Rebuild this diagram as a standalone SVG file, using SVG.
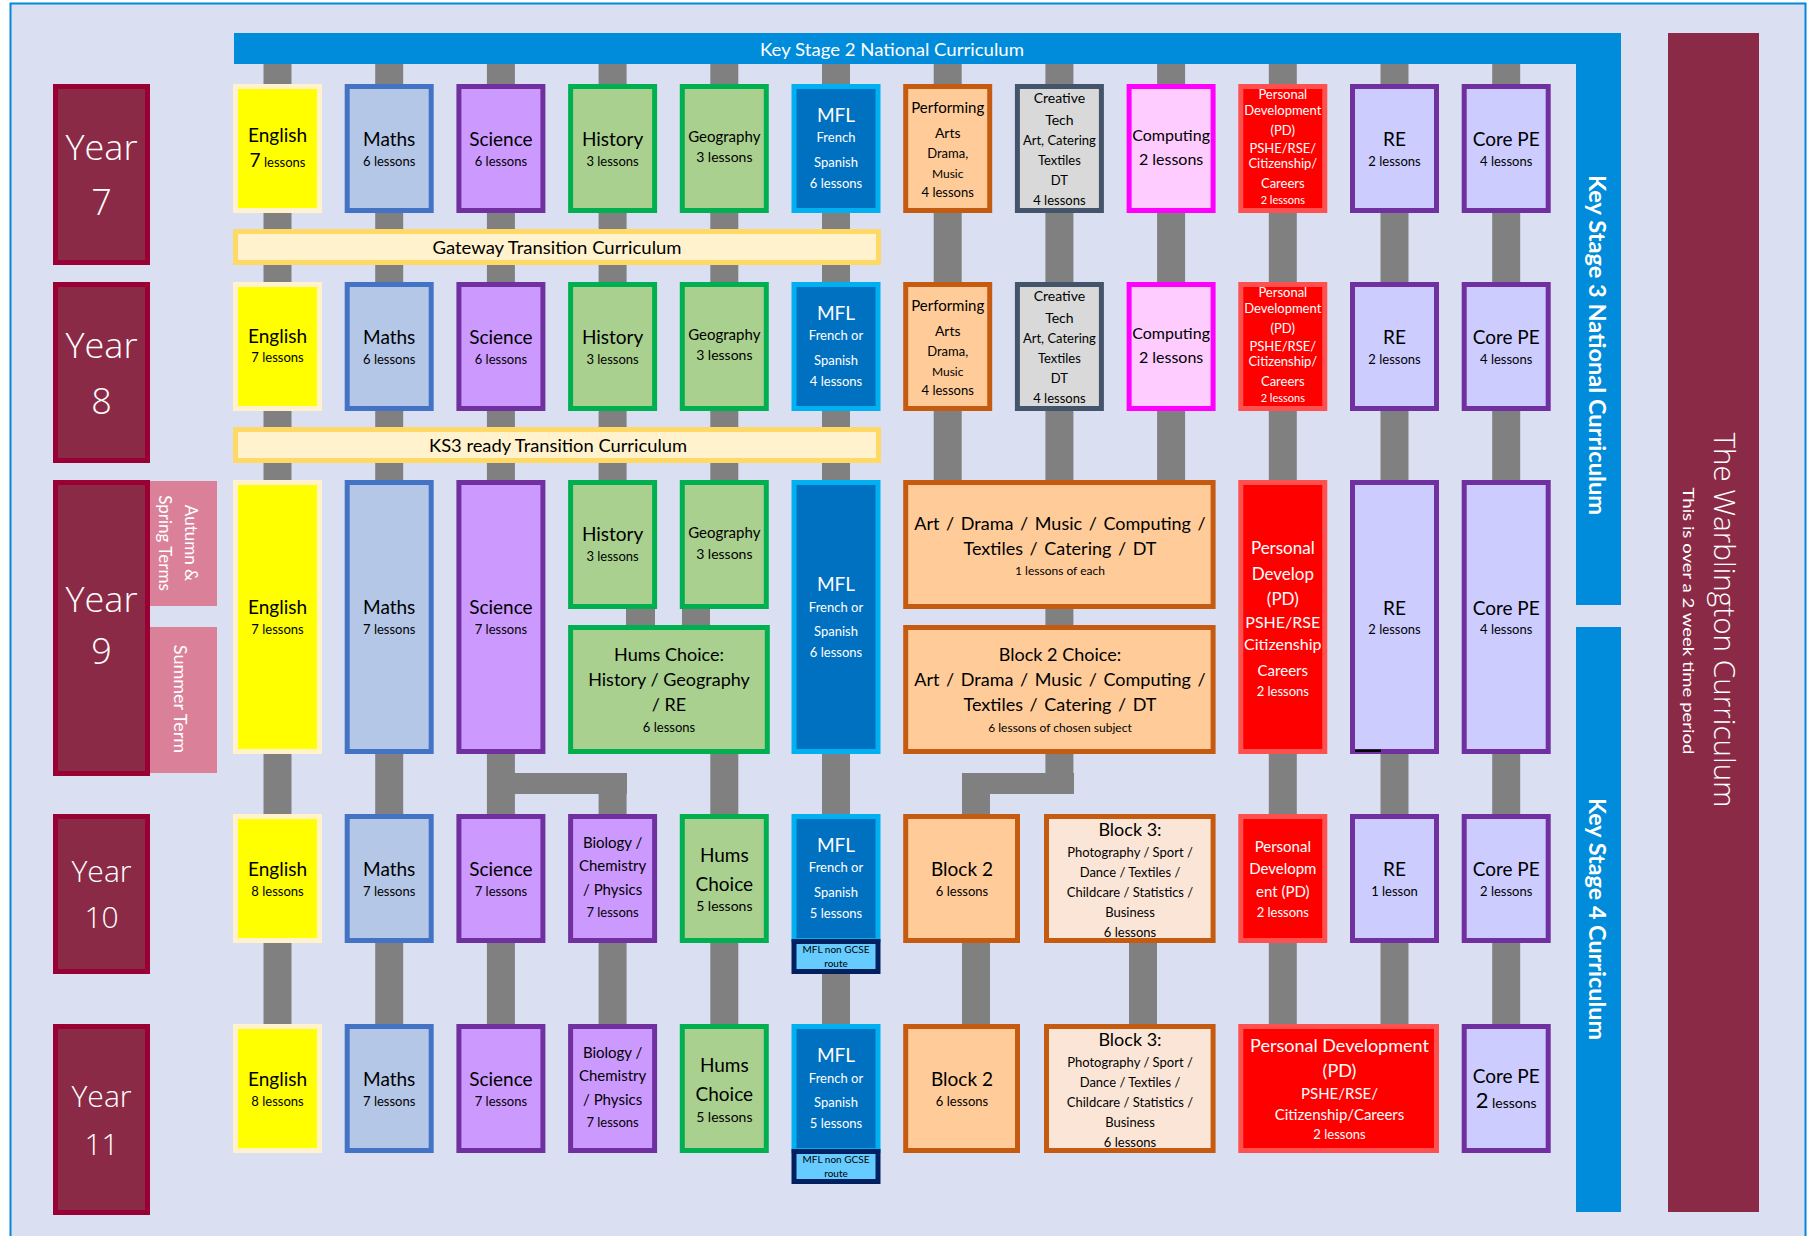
<svg xmlns="http://www.w3.org/2000/svg" width="1813" height="1236" viewBox="0 0 1813 1236">
<style>
.t{font-family:Lato,"Noto Sans","Liberation Sans",sans-serif;text-anchor:middle;fill:#000}
.w{fill:#fff}
.hw{font-family:"Open Sans","DejaVu Sans","Liberation Sans",sans-serif;font-weight:300;fill:#fff;text-anchor:middle}
.c{fill:#808080}
.b{stroke-width:5}
.eng{fill:#FFFF00;stroke:#FFF2CC}
.mat{fill:#B4C7E7;stroke:#4472C4}
.sci{fill:#CC99FF;stroke:#7030A0}
.hum{fill:#A9D08E;stroke:#00B050}
.mfl{fill:#0070C0;stroke:#00B0F0}
.ngc{fill:#66CCFF;stroke:#002060}
.prf{fill:#FFCC99;stroke:#C55A11}
.b3{fill:#FBE5D6;stroke:#C55A11}
.ct{fill:#D9D9D9;stroke:#44546A}
.cmp{fill:#FFCCFF;stroke:#FF00FF}
.pd{fill:#FF0000;stroke:#FF5050}
.re{fill:#CCCCFF;stroke:#7030A0}
.tr{fill:#FFF2CC;stroke:#FFD966}
.yr{fill:#8B2A46;stroke:#990033}
.term{fill:#DA8199}
.s10{font-size:10px}.s11{font-size:11px}.s12{font-size:12px}.s13{font-size:13px}.s14{font-size:14px}.s15{font-size:15px}.s16{font-size:16px}.s17{font-size:17px}.s18{font-size:18px}.s19{font-size:19px}
</style>
<rect x="0" y="0" width="1813" height="1236" fill="#ffffff"/>
<rect x="10.5" y="3.5" width="1795" height="1250" fill="#DAE0F2" stroke="#0288D8" stroke-width="2"/>

<g id="ks-bars">
<path d="M234 33H1621V605H1576V64H234Z" fill="#008CDB"/>
<rect x="1576" y="627" width="45" height="585" fill="#008CDB"/>
<text class="t w" x="892" y="56" font-size="18" textLength="264" lengthAdjust="spacingAndGlyphs">Key Stage 2 National Curriculum</text>
<text class="t w" transform="translate(1589,345) rotate(90)" font-size="22" font-weight="bold" textLength="340" lengthAdjust="spacingAndGlyphs">Key Stage 3 National Curriculum</text>
<text class="t w" transform="translate(1589,919) rotate(90)" font-size="22" font-weight="bold" textLength="242" lengthAdjust="spacingAndGlyphs">Key Stage 4 Curriculum</text>
</g>

<g id="title">
<rect x="1668" y="33" width="91" height="1179" fill="#8B2A46"/>
<text class="hw" transform="translate(1714,620) rotate(90)" font-size="30" textLength="375" lengthAdjust="spacingAndGlyphs">The Warblington Curriculum</text>
<text class="t w" transform="translate(1683,621) rotate(90)" font-size="16" textLength="267" lengthAdjust="spacingAndGlyphs">This is over a 2 week time period</text>
</g>

<g id="connectors">
<rect class="c" x="263.5" y="64" width="28" height="960"/>
<rect class="c" x="375.2" y="64" width="28" height="960"/>
<rect class="c" x="486.9" y="64" width="28" height="960"/>
<rect class="c" x="598.6" y="64" width="28" height="416"/>
<rect class="c" x="598.6" y="773" width="28" height="251"/>
<rect class="c" x="500" y="773" width="127" height="21"/>
<rect class="c" x="626" y="605" width="29" height="22"/>
<rect class="c" x="682" y="605" width="28" height="22"/>
<rect class="c" x="710.3" y="64" width="28" height="416"/>
<rect class="c" x="710.3" y="754" width="28" height="270"/>
<rect class="c" x="822" y="64" width="28" height="960"/>
<rect class="c" x="933.7" y="64" width="28" height="416"/>
<rect class="c" x="1045.4" y="64" width="28" height="730"/>
<rect class="c" x="962" y="773" width="112" height="21"/>
<rect class="c" x="962" y="773" width="28" height="251"/>
<rect class="c" x="1157.1" y="64" width="28" height="416"/>
<rect class="c" x="1129" y="943" width="28" height="81"/>
<rect class="c" x="1268.8" y="64" width="28" height="960"/>
<rect class="c" x="1380.5" y="64" width="28" height="960"/>
<rect class="c" x="1492.2" y="64" width="28" height="960"/>
</g>

<g id="year7">
<rect class="yr b" x="55.5" y="86.5" width="92" height="176"/>
<text class="hw" x="101.5" y="160" font-size="34" textLength="72" lengthAdjust="spacingAndGlyphs">Year</text>
<text class="hw" x="101.5" y="215" font-size="36">7</text>
</g>
<g id="year8">
<rect class="yr b" x="55.5" y="284.5" width="92" height="176"/>
<text class="hw" x="101.5" y="358" font-size="34" textLength="72" lengthAdjust="spacingAndGlyphs">Year</text>
<text class="hw" x="101.5" y="414" font-size="36">8</text>
</g>
<g id="year9">
<rect class="yr b" x="55.5" y="482.5" width="92" height="291"/>
<text class="hw" x="101.5" y="612" font-size="34" textLength="72" lengthAdjust="spacingAndGlyphs">Year</text>
<text class="hw" x="101.5" y="664" font-size="36">9</text>
</g>
<g id="year10">
<rect class="yr b" x="55.5" y="816.5" width="92" height="155"/>
<text class="hw" x="101.5" y="882" font-size="29" textLength="60" lengthAdjust="spacingAndGlyphs">Year</text>
<text class="hw" x="101.5" y="928" font-size="30">10</text>
</g>
<g id="year11">
<rect class="yr b" x="55.5" y="1026.5" width="92" height="186"/>
<text class="hw" x="101.5" y="1107" font-size="29" textLength="60" lengthAdjust="spacingAndGlyphs">Year</text>
<text class="hw" x="101.5" y="1155" font-size="30">11</text>
</g>
<g id="term-autumn">
<rect class="term" x="150" y="481" width="67" height="125"/>
<text class="t w s17" transform="translate(185,543) rotate(90)">Autumn &amp;</text>
<text class="t w s17" transform="translate(159,543) rotate(90)">Spring Terms</text>
</g>
<g id="term-summer">
<rect class="term" x="150" y="627" width="67" height="146"/>
<text class="t w s18" transform="translate(174,699) rotate(90)">Summer Term</text>
</g>

<g id="gateway">
<rect class="tr b" x="235.5" y="231.5" width="643" height="31"/>
<text class="t s17" x="557" y="254" textLength="249" lengthAdjust="spacingAndGlyphs">Gateway Transition Curriculum</text>
</g>
<g id="ks3ready">
<rect class="tr b" x="235.5" y="429.5" width="643" height="31"/>
<text class="t s17" x="558" y="452" textLength="258" lengthAdjust="spacingAndGlyphs">KS3 ready Transition Curriculum</text>
</g>

<!-- Year 7 -->
<g id="y7-english"><rect class="eng b" x="235.5" y="86.5" width="84" height="124"/>
<text class="t s19" x="277.5" y="142">English</text><text class="t s13" x="277.5" y="167"><tspan class="s19">7</tspan> lessons</text></g>
<g id="y7-maths"><rect class="mat b" x="347.2" y="86.5" width="84" height="124"/>
<text class="t s19" x="389.2" y="146">Maths</text><text class="t s13" x="389.2" y="166">6 lessons</text></g>
<g id="y7-science"><rect class="sci b" x="458.9" y="86.5" width="84" height="124"/>
<text class="t s19" x="500.9" y="146">Science</text><text class="t s13" x="500.9" y="166">6 lessons</text></g>
<g id="y7-history"><rect class="hum b" x="570.6" y="86.5" width="84" height="124"/>
<text class="t s19" x="612.6" y="146">History</text><text class="t s13" x="612.6" y="166">3 lessons</text></g>
<g id="y7-geography"><rect class="hum b" x="682.3" y="86.5" width="84" height="124"/>
<text class="t s15" x="724.3" y="142">Geography</text><text class="t s14" x="724.3" y="162">3 lessons</text></g>
<g id="y7-mfl"><rect class="mfl b" x="794" y="86.5" width="84" height="124"/>
<text class="t w s19" x="836" y="122">MFL</text><text class="t w s13" x="836" y="142">French</text><text class="t w s13" x="836" y="167">Spanish</text><text class="t w s13" x="836" y="188">6 lessons</text></g>
<g id="y7-perf"><rect class="prf b" x="905.7" y="86.5" width="84" height="124"/>
<text class="t s15" x="947.7" y="113">Performing</text><text class="t s14" x="947.7" y="138">Arts</text><text class="t s13" x="947.7" y="158">Drama,</text><text class="t s12" x="947.7" y="178">Music</text><text class="t s13" x="947.7" y="197">4 lessons</text></g>
<g id="y7-creative"><rect class="ct b" x="1017.4" y="86.5" width="84" height="124"/>
<text class="t s14" x="1059.4" y="103">Creative</text><text class="t s14" x="1059.4" y="125">Tech</text><text class="t s13" x="1059.4" y="145">Art, Catering</text><text class="t s13" x="1059.4" y="165">Textiles</text><text class="t s13" x="1059.4" y="185">DT</text><text class="t s13" x="1059.4" y="205">4 lessons</text></g>
<g id="y7-computing"><rect class="cmp b" x="1129.1" y="86.5" width="84" height="124"/>
<text class="t s16" x="1171.1" y="141">Computing</text><text class="t s16" x="1171.1" y="165">2 lessons</text></g>
<g id="y7-pd"><rect class="pd b" x="1240.8" y="86.5" width="84" height="124"/>
<text class="t w s13" x="1282.8" y="99">Personal</text><text class="t w s13" x="1282.8" y="115">Development</text><text class="t w s13" x="1282.8" y="135">(PD)</text><text class="t w s13" x="1282.8" y="153">PSHE/RSE/</text><text class="t w s13" x="1282.8" y="168">Citizenship/</text><text class="t w s13" x="1282.8" y="188">Careers</text><text class="t w s11" x="1282.8" y="204">2 lessons</text></g>
<g id="y7-re"><rect class="re b" x="1352.5" y="86.5" width="84" height="124"/>
<text class="t s19" x="1394.5" y="146">RE</text><text class="t s13" x="1394.5" y="166">2 lessons</text></g>
<g id="y7-pe"><rect class="re b" x="1464.2" y="86.5" width="84" height="124"/>
<text class="t s19" x="1506.2" y="146">Core PE</text><text class="t s13" x="1506.2" y="166">4 lessons</text></g>

<!-- Year 8 -->
<g id="y8-english"><rect class="eng b" x="235.5" y="284.5" width="84" height="124"/>
<text class="t s19" x="277.5" y="343">English</text><text class="t s13" x="277.5" y="362">7 lessons</text></g>
<g id="y8-maths"><rect class="mat b" x="347.2" y="284.5" width="84" height="124"/>
<text class="t s19" x="389.2" y="344">Maths</text><text class="t s13" x="389.2" y="364">6 lessons</text></g>
<g id="y8-science"><rect class="sci b" x="458.9" y="284.5" width="84" height="124"/>
<text class="t s19" x="500.9" y="344">Science</text><text class="t s13" x="500.9" y="364">6 lessons</text></g>
<g id="y8-history"><rect class="hum b" x="570.6" y="284.5" width="84" height="124"/>
<text class="t s19" x="612.6" y="344">History</text><text class="t s13" x="612.6" y="364">3 lessons</text></g>
<g id="y8-geography"><rect class="hum b" x="682.3" y="284.5" width="84" height="124"/>
<text class="t s15" x="724.3" y="340">Geography</text><text class="t s14" x="724.3" y="360">3 lessons</text></g>
<g id="y8-mfl"><rect class="mfl b" x="794" y="284.5" width="84" height="124"/>
<text class="t w s19" x="836" y="320">MFL</text><text class="t w s13" x="836" y="340">French or</text><text class="t w s13" x="836" y="365">Spanish</text><text class="t w s13" x="836" y="386">4 lessons</text></g>
<g id="y8-perf"><rect class="prf b" x="905.7" y="284.5" width="84" height="124"/>
<text class="t s15" x="947.7" y="311">Performing</text><text class="t s14" x="947.7" y="336">Arts</text><text class="t s13" x="947.7" y="356">Drama,</text><text class="t s12" x="947.7" y="376">Music</text><text class="t s13" x="947.7" y="395">4 lessons</text></g>
<g id="y8-creative"><rect class="ct b" x="1017.4" y="284.5" width="84" height="124"/>
<text class="t s14" x="1059.4" y="301">Creative</text><text class="t s14" x="1059.4" y="323">Tech</text><text class="t s13" x="1059.4" y="343">Art, Catering</text><text class="t s13" x="1059.4" y="363">Textiles</text><text class="t s13" x="1059.4" y="383">DT</text><text class="t s13" x="1059.4" y="403">4 lessons</text></g>
<g id="y8-computing"><rect class="cmp b" x="1129.1" y="284.5" width="84" height="124"/>
<text class="t s16" x="1171.1" y="339">Computing</text><text class="t s16" x="1171.1" y="363">2 lessons</text></g>
<g id="y8-pd"><rect class="pd b" x="1240.8" y="284.5" width="84" height="124"/>
<text class="t w s13" x="1282.8" y="297">Personal</text><text class="t w s13" x="1282.8" y="313">Development</text><text class="t w s13" x="1282.8" y="333">(PD)</text><text class="t w s13" x="1282.8" y="351">PSHE/RSE/</text><text class="t w s13" x="1282.8" y="366">Citizenship/</text><text class="t w s13" x="1282.8" y="386">Careers</text><text class="t w s11" x="1282.8" y="402">2 lessons</text></g>
<g id="y8-re"><rect class="re b" x="1352.5" y="284.5" width="84" height="124"/>
<text class="t s19" x="1394.5" y="344">RE</text><text class="t s13" x="1394.5" y="364">2 lessons</text></g>
<g id="y8-pe"><rect class="re b" x="1464.2" y="284.5" width="84" height="124"/>
<text class="t s19" x="1506.2" y="344">Core PE</text><text class="t s13" x="1506.2" y="364">4 lessons</text></g>

<!-- Year 9 -->
<g id="y9-english"><rect class="eng b" x="235.5" y="482.5" width="84" height="269"/>
<text class="t s19" x="277.5" y="614">English</text><text class="t s13" x="277.5" y="634">7 lessons</text></g>
<g id="y9-maths"><rect class="mat b" x="347.2" y="482.5" width="84" height="269"/>
<text class="t s19" x="389.2" y="614">Maths</text><text class="t s13" x="389.2" y="634">7 lessons</text></g>
<g id="y9-science"><rect class="sci b" x="458.9" y="482.5" width="84" height="269"/>
<text class="t s19" x="500.9" y="614">Science</text><text class="t s13" x="500.9" y="634">7 lessons</text></g>
<g id="y9-history"><rect class="hum b" x="570.6" y="482.5" width="84" height="124"/>
<text class="t s19" x="612.6" y="541">History</text><text class="t s13" x="612.6" y="561">3 lessons</text></g>
<g id="y9-geography"><rect class="hum b" x="682.3" y="482.5" width="84" height="124"/>
<text class="t s15" x="724.3" y="538">Geography</text><text class="t s14" x="724.3" y="559">3 lessons</text></g>
<g id="y9-hums"><rect class="hum b" x="570.6" y="627.5" width="196.7" height="124"/>
<text class="t s18" x="669" y="661">Hums Choice:</text><text class="t s18" x="669" y="686">History / Geography</text><text class="t s18" x="669" y="711">/ RE</text><text class="t s13" x="669" y="732">6 lessons</text></g>
<g id="y9-mfl"><rect class="mfl b" x="794" y="482.5" width="84" height="269"/>
<text class="t w s19" x="836" y="591">MFL</text><text class="t w s13" x="836" y="612">French or</text><text class="t w s13" x="836" y="636">Spanish</text><text class="t w s13" x="836" y="657">6 lessons</text></g>
<g id="y9-block1"><rect class="prf b" x="905.7" y="482.5" width="307.4" height="124"/>
<text class="t s18" x="1060" y="530" word-spacing="2">Art / Drama / Music / Computing /</text><text class="t s18" x="1060" y="555" word-spacing="2">Textiles / Catering / DT</text><text class="t s12" x="1060" y="575">1 lessons of each</text></g>
<g id="y9-block2"><rect class="prf b" x="905.7" y="627.5" width="307.4" height="124"/>
<text class="t s18" x="1060" y="661">Block 2 Choice:</text><text class="t s18" x="1060" y="686" word-spacing="2">Art / Drama / Music / Computing /</text><text class="t s18" x="1060" y="711" word-spacing="2">Textiles / Catering / DT</text><text class="t s12" x="1060" y="732">6 lessons of chosen subject</text></g>
<g id="y9-pd"><rect class="pd b" x="1240.8" y="482.5" width="84" height="269"/>
<text class="t w s17" x="1282.8" y="554">Personal</text><text class="t w s17" x="1282.8" y="580">Develop</text><text class="t w s17" x="1282.8" y="605">(PD)</text><text class="t w s16" x="1282.8" y="628">PSHE/RSE</text><text class="t w s16" x="1282.8" y="650">Citizenship</text><text class="t w s15" x="1282.8" y="676">Careers</text><text class="t w s13" x="1282.8" y="696">2 lessons</text></g>
<g id="y9-re"><rect class="re b" x="1352.5" y="482.5" width="84" height="269"/>
<rect x="1355" y="749.5" width="26" height="2.5" fill="#000"/>
<text class="t s19" x="1394.5" y="615">RE</text><text class="t s13" x="1394.5" y="634">2 lessons</text></g>
<g id="y9-pe"><rect class="re b" x="1464.2" y="482.5" width="84" height="269"/>
<text class="t s19" x="1506.2" y="615">Core PE</text><text class="t s13" x="1506.2" y="634">4 lessons</text></g>

<!-- Year 10 -->
<g id="y10-english"><rect class="eng b" x="235.5" y="816.5" width="84" height="124"/>
<text class="t s19" x="277.5" y="876">English</text><text class="t s13" x="277.5" y="896">8 lessons</text></g>
<g id="y10-maths"><rect class="mat b" x="347.2" y="816.5" width="84" height="124"/>
<text class="t s19" x="389.2" y="876">Maths</text><text class="t s13" x="389.2" y="896">7 lessons</text></g>
<g id="y10-science"><rect class="sci b" x="458.9" y="816.5" width="84" height="124"/>
<text class="t s19" x="500.9" y="876">Science</text><text class="t s13" x="500.9" y="896">7 lessons</text></g>
<g id="y10-bio"><rect class="sci b" x="570.6" y="816.5" width="84" height="124"/>
<text class="t s15" x="612.6" y="848">Biology /</text><text class="t s15" x="612.6" y="871">Chemistry</text><text class="t s15" x="612.6" y="895">/ Physics</text><text class="t s13" x="612.6" y="917">7 lessons</text></g>
<g id="y10-hums"><rect class="hum b" x="682.3" y="816.5" width="84" height="124"/>
<text class="t s19" x="724.3" y="862">Hums</text><text class="t s19" x="724.3" y="891">Choice</text><text class="t s14" x="724.3" y="911">5 lessons</text></g>
<g id="y10-mfl"><rect class="mfl b" x="794" y="816.5" width="84" height="124"/>
<text class="t w s19" x="836" y="852">MFL</text><text class="t w s13" x="836" y="872">French or</text><text class="t w s13" x="836" y="897">Spanish</text><text class="t w s13" x="836" y="918">5 lessons</text></g>
<g id="y10-mfl-nongcse"><rect class="ngc b" x="794" y="941.5" width="84" height="30"/>
<text class="t s10" x="836" y="953">MFL non GCSE</text><text class="t s10" x="836" y="967">route</text></g>
<g id="y10-block2"><rect class="prf b" x="905.7" y="816.5" width="111.8" height="124"/>
<text class="t s19" x="962" y="876">Block 2</text><text class="t s13" x="962" y="896">6 lessons</text></g>
<g id="y10-block3"><rect class="b3 b" x="1046.5" y="816.5" width="166.6" height="124"/>
<text class="t s18" x="1130" y="836">Block 3:</text><text class="t s13" x="1130" y="857">Photography / Sport /</text><text class="t s13" x="1130" y="877">Dance / Textiles /</text><text class="t s13" x="1130" y="897">Childcare / Statistics /</text><text class="t s13" x="1130" y="917">Business</text><text class="t s13" x="1130" y="937">6 lessons</text></g>
<g id="y10-pd"><rect class="pd b" x="1240.8" y="816.5" width="84" height="124"/>
<text class="t w s15" x="1282.8" y="852">Personal</text><text class="t w s15" x="1282.8" y="874">Developm</text><text class="t w s15" x="1282.8" y="897">ent (PD)</text><text class="t w s13" x="1282.8" y="917">2 lessons</text></g>
<g id="y10-re"><rect class="re b" x="1352.5" y="816.5" width="84" height="124"/>
<text class="t s19" x="1394.5" y="876">RE</text><text class="t s13" x="1394.5" y="896">1 lesson</text></g>
<g id="y10-pe"><rect class="re b" x="1464.2" y="816.5" width="84" height="124"/>
<text class="t s19" x="1506.2" y="876">Core PE</text><text class="t s13" x="1506.2" y="896">2 lessons</text></g>

<!-- Year 11 -->
<g id="y11-english"><rect class="eng b" x="235.5" y="1026.5" width="84" height="124"/>
<text class="t s19" x="277.5" y="1086">English</text><text class="t s13" x="277.5" y="1106">8 lessons</text></g>
<g id="y11-maths"><rect class="mat b" x="347.2" y="1026.5" width="84" height="124"/>
<text class="t s19" x="389.2" y="1086">Maths</text><text class="t s13" x="389.2" y="1106">7 lessons</text></g>
<g id="y11-science"><rect class="sci b" x="458.9" y="1026.5" width="84" height="124"/>
<text class="t s19" x="500.9" y="1086">Science</text><text class="t s13" x="500.9" y="1106">7 lessons</text></g>
<g id="y11-bio"><rect class="sci b" x="570.6" y="1026.5" width="84" height="124"/>
<text class="t s15" x="612.6" y="1058">Biology /</text><text class="t s15" x="612.6" y="1081">Chemistry</text><text class="t s15" x="612.6" y="1105">/ Physics</text><text class="t s13" x="612.6" y="1127">7 lessons</text></g>
<g id="y11-hums"><rect class="hum b" x="682.3" y="1026.5" width="84" height="124"/>
<text class="t s19" x="724.3" y="1072">Hums</text><text class="t s19" x="724.3" y="1101">Choice</text><text class="t s14" x="724.3" y="1122">5 lessons</text></g>
<g id="y11-mfl"><rect class="mfl b" x="794" y="1026.5" width="84" height="124"/>
<text class="t w s19" x="836" y="1062">MFL</text><text class="t w s13" x="836" y="1083">French or</text><text class="t w s13" x="836" y="1107">Spanish</text><text class="t w s13" x="836" y="1128">5 lessons</text></g>
<g id="y11-mfl-nongcse"><rect class="ngc b" x="794" y="1151.5" width="84" height="30"/>
<text class="t s10" x="836" y="1163">MFL non GCSE</text><text class="t s10" x="836" y="1177">route</text></g>
<g id="y11-block2"><rect class="prf b" x="905.7" y="1026.5" width="111.8" height="124"/>
<text class="t s19" x="962" y="1086">Block 2</text><text class="t s13" x="962" y="1106">6 lessons</text></g>
<g id="y11-block3"><rect class="b3 b" x="1046.5" y="1026.5" width="166.6" height="124"/>
<text class="t s18" x="1130" y="1046">Block 3:</text><text class="t s13" x="1130" y="1067">Photography / Sport /</text><text class="t s13" x="1130" y="1087">Dance / Textiles /</text><text class="t s13" x="1130" y="1107">Childcare / Statistics /</text><text class="t s13" x="1130" y="1127">Business</text><text class="t s13" x="1130" y="1147">6 lessons</text></g>
<g id="y11-pd"><rect class="pd b" x="1240.8" y="1026.5" width="195.7" height="124"/>
<text class="t w s18" x="1339.5" y="1052">Personal Development</text><text class="t w s18" x="1339.5" y="1077">(PD)</text><text class="t w s15" x="1339.5" y="1099">PSHE/RSE/</text><text class="t w s15" x="1339.5" y="1120">Citizenship/Careers</text><text class="t w s13" x="1339.5" y="1139">2 lessons</text></g>
<g id="y11-pe"><rect class="re b" x="1464.2" y="1026.5" width="84" height="124"/>
<text class="t s19" x="1506.2" y="1083">Core PE</text><text class="t s14" x="1506.2" y="1108"><tspan font-size="22">2</tspan> lessons</text></g>
</svg>
